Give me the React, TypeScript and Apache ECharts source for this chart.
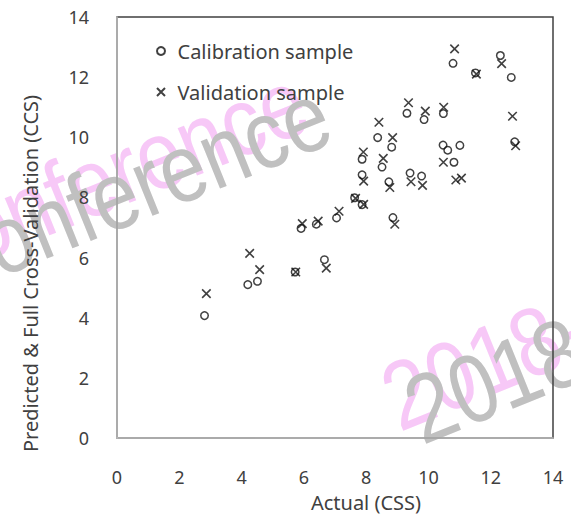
import React, { useEffect, useRef } from "react";
import * as echarts from "echarts";

const calibrationX = [2.81, 4.2, 4.51, 5.72, 6.66, 5.91, 6.4, 7.05, 7.63, 7.87, 7.87, 7.87, 8.37, 8.51, 8.73, 8.82, 8.86, 9.31, 9.41, 9.78, 9.86, 10.48, 10.47, 10.62, 10.82, 11.01, 10.79, 11.51, 12.31, 12.66, 12.77];
const calibrationY = [4.07, 5.1, 5.21, 5.52, 5.93, 6.97, 7.11, 7.32, 7.99, 7.76, 8.75, 9.27, 9.99, 9.01, 8.52, 9.67, 7.33, 10.8, 8.81, 8.71, 10.59, 10.79, 9.74, 9.57, 9.17, 9.73, 12.46, 12.14, 12.72, 11.99, 9.85];
const validationX = [2.87, 4.26, 4.58, 5.74, 6.72, 5.95, 6.46, 7.13, 7.66, 7.92, 7.92, 7.91, 8.41, 8.55, 8.76, 8.85, 8.92, 9.36, 9.44, 9.81, 9.9, 10.49, 10.48, 10.88, 11.06, 10.84, 11.54, 12.35, 12.7, 12.8];
const validationY = [4.8, 6.14, 5.6, 5.52, 5.65, 7.13, 7.21, 7.54, 7.97, 7.77, 8.54, 9.51, 10.5, 9.3, 8.33, 9.99, 7.11, 11.15, 8.52, 8.4, 10.87, 11.0, 9.17, 8.58, 8.64, 12.94, 12.1, 12.45, 10.7, 9.72];

const seriesNames = ["Calibration sample", "Validation sample"];
const axisMin = 0;
const axisMax = 14;
const axisStep = 2;
const xTitle = "Actual (CSS)";
const yTitle = "Predicted & Full Cross-Validation (CCS)";

const FONT = "'Noto Sans', sans-serif";
const TEXT = "#404040";
const CROSS = "path://M0 0L10 10M10 0L0 10";

export default function App() {
  const ref = useRef<HTMLDivElement>(null);
  useEffect(() => {
    if (!ref.current) return;
    const chart = echarts.init(ref.current, null, { renderer: "svg" });
    const rot = (22 * Math.PI) / 180;
    const wm = (text: string, x: number, y: number, fill: string, align: string, z: number) => ({
      type: "text",
      x,
      y,
      rotation: rot,
      scaleY: 1.18,
      z,
      silent: true,
      style: {
        text,
        fill,
        fontSize: 82,
        fontFamily: "'Liberation Sans', Arial, sans-serif",
        align,
        verticalAlign: "bottom",
      },
    });
    chart.setOption({
      animation: false,
      backgroundColor: "#fff",
      grid: {
        left: 117,
        right: 18,
        top: 17,
        bottom: 75,
        show: true,
        borderColor: "#404040",
        borderWidth: 1.5,
      },
      legend: {
        orient: "vertical",
        left: 151,
        top: 35,
        itemWidth: 23,
        itemHeight: 8,
        itemGap: 19,
        symbolKeepAspect: true,
        textStyle: { color: TEXT, fontSize: 20, fontFamily: FONT, lineHeight: 22 },
        data: seriesNames,
      },
      xAxis: {
        type: "value",
        min: axisMin,
        max: axisMax,
        interval: axisStep,
        splitLine: { show: false },
        axisTick: { show: false },
        axisLine: { show: true, lineStyle: { color: "#bfbfbf", width: 1.5 } },
        axisLabel: { color: TEXT, fontSize: 18, fontFamily: FONT, margin: 30 },
        name: xTitle,
        nameLocation: "middle",
        nameGap: 54,
        nameTextStyle: { color: TEXT, fontSize: 20, fontFamily: FONT, padding: [0, 0, 0, 62] },
      },
      yAxis: {
        type: "value",
        min: axisMin,
        max: axisMax,
        interval: axisStep,
        splitLine: { show: false },
        axisTick: { show: false },
        axisLine: { show: true, lineStyle: { color: "#bfbfbf", width: 1.5 } },
        axisLabel: { color: TEXT, fontSize: 18, fontFamily: FONT, margin: 28 },
        name: yTitle,
        nameLocation: "middle",
        nameRotate: 90,
        nameGap: 77,
        nameTextStyle: { color: TEXT, fontSize: 20, fontFamily: FONT, padding: [0, 92, 0, 0] },
      },
      graphic: {
        elements: [
          wm("Conference", 320, 142, "#f7c8f7", "right", -2),
          wm("Conference", 343, 155, "#c0c0c0", "right", -1),
          wm("2018-", 405, 446, "#f7c8f7", "left", -2),
          wm("2018-", 428, 459, "#c0c0c0", "left", -1),
        ],
      },
      series: [
        {
          name: seriesNames[0],
          type: "scatter",
          symbol: "circle",
          symbolSize: 7.5,
          itemStyle: { color: "rgba(255,255,255,0)", borderColor: "#111", borderWidth: 1.5 },
          data: calibrationX.map((x, i) => [x, calibrationY[i]]),
          z: 3,
        },
        {
          name: seriesNames[1],
          type: "scatter",
          symbol: CROSS,
          symbolSize: 8.5,
          itemStyle: { color: "rgba(255,255,255,0)", borderColor: "#111", borderWidth: 1.6 },
          data: validationX.map((x, i) => [x, validationY[i]]),
          z: 3,
        },
      ],
    });
    return () => chart.dispose();
  }, []);
  return <div ref={ref} style={{ width: 571, height: 517, position: "absolute", left: 0, top: 0 }} />;
}
